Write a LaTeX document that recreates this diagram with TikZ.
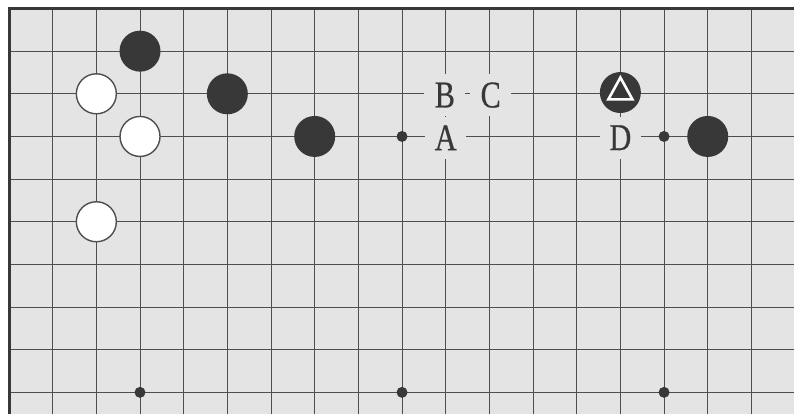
\documentclass[tikz,border=0pt]{standalone}
\usepackage{graphicx}
\usepackage{fontspec}
\setmainfont{Liberation Serif}
\newfontfamily\labelfont[FakeBold=0.6]{Liberation Serif}
\definecolor{boardbg}{HTML}{E4E4E4}
\definecolor{gridc}{HTML}{4E4E4E}
\definecolor{stonec}{HTML}{383838}
\newcommand\narrowletter[1]{\scalebox{0.8}[1]{#1}}
\tikzset{
  gridline/.style={draw=gridc, line width=0.85pt},
  edgeline/.style={draw=stonec, line width=3pt, line join=miter},
  bstone/.style={circle, fill=stonec, minimum size=41pt, inner sep=0pt},
  wstone/.style={circle, fill=white, draw=gridc, line width=1.4pt, minimum size=40pt, inner sep=0pt},
  starpt/.style={circle, fill=stonec, minimum size=11pt, inner sep=0pt},
  lbl/.style={fill=boardbg, minimum width=41pt, minimum height=42pt, inner sep=0pt,
              text=stonec, font=\labelfont\fontsize{37.8}{40}\selectfont},
  tri/.style={draw=white, line width=2.6pt, line join=miter},
}
\begin{document}
\begin{tikzpicture}[x=1pt,y=1pt]
\useasboundingbox (0,0) rectangle (794,-413);
\clip (0,0) rectangle (794,-413);
\fill[white] (0,0) rectangle (794,-413);
\begin{scope}[shift={(9,-8.5)}, x=43.67pt, y=-42.65pt]
  \fill[boardbg] (0,0) rectangle (18.3,9.6);
  \foreach \i in {1,...,18} \draw[gridline] (\i,0) -- (\i,9.6);
  \foreach \j in {1,...,9} \draw[gridline] (0,\j) -- (18.3,\j);
  \draw[edgeline] (0,9.6) -- (0,0) -- (18.3,0);
  % star points
  \node[starpt] (s1) at (9,3) {};
  \node[starpt] (s2) at (15,3) {};
  \node[starpt] (s3) at (3,9) {};
  \node[starpt] (s4) at (9,9) {};
  \node[starpt] (s5) at (15,9) {};
  % stones
  \node[bstone] (b1) at (3,1) {};
  \node[wstone] (w1) at (2,2) {};
  \node[bstone] (b2) at (5,2) {};
  \node[wstone] (w2) at (3,3) {};
  \node[bstone] (b3) at (7,3) {};
  \node[wstone] (w3) at (2,5) {};
  \node[bstone] (t)  at (14,1.97) {};
  \node[bstone] (b4) at (16,3) {};
  \draw[tri] ([shift={(0pt,15pt)}]t.center) -- ([shift={(-12pt,-6.8pt)}]t.center)
             -- ([shift={(12pt,-6.8pt)}]t.center) -- cycle;
  % labels
  \node[lbl] (lB) at (9.98,2.03) {\narrowletter{B}};
  \node[lbl] (lC) at (11.03,2.03) {\narrowletter{C}};
  \node[lbl] (lA) at (10,3.03) {\narrowletter{A}};
  \node[lbl] (lD) at (14,3.03) {\narrowletter{D}};
\end{scope}
\end{tikzpicture}
\end{document}
